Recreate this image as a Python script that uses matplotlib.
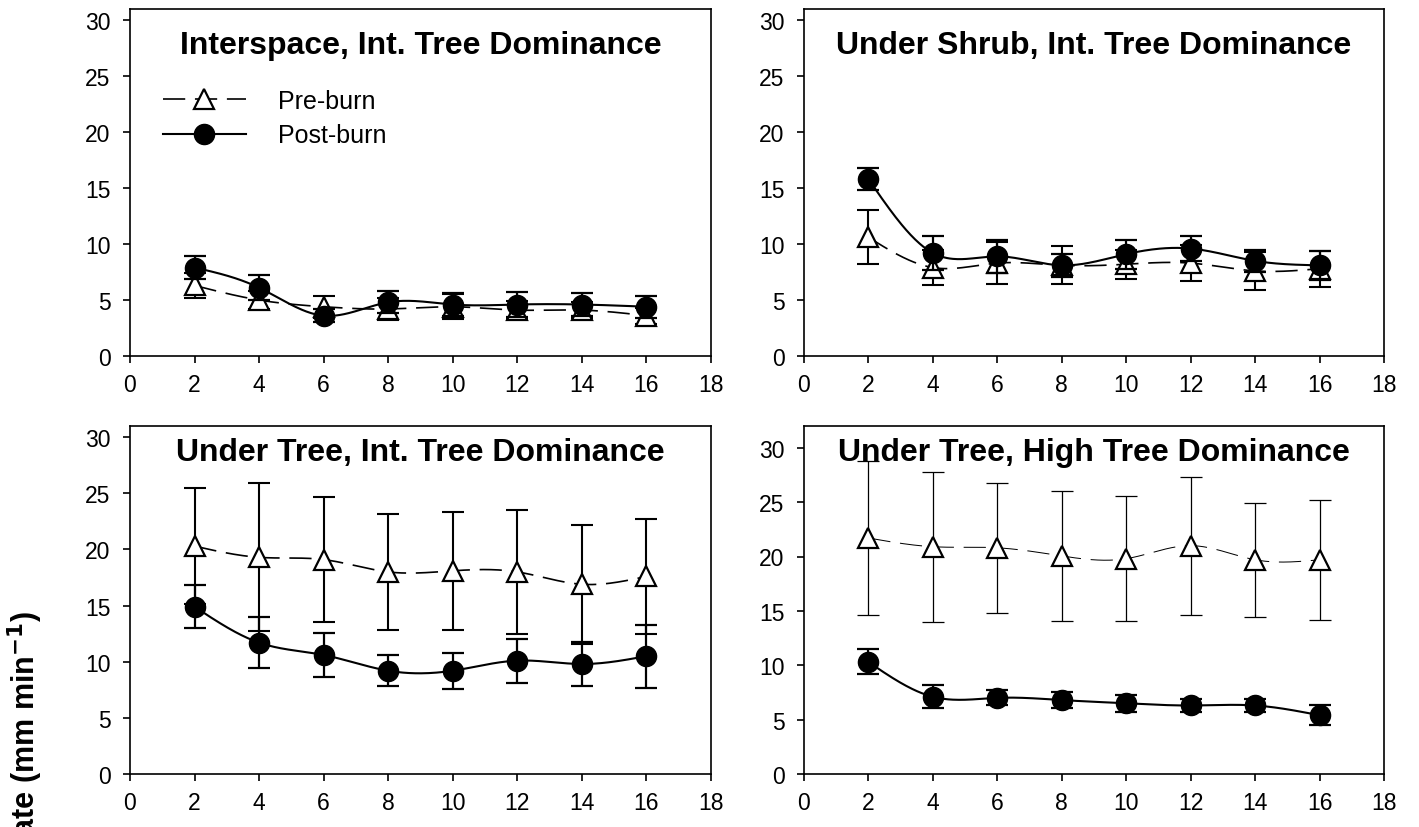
import numpy as np
import matplotlib
matplotlib.use("Agg")
import matplotlib.pyplot as plt
from matplotlib.lines import Line2D

plt.rcParams['font.family'] = ['Liberation Sans', 'DejaVu Sans']
plt.rcParams['lines.scale_dashes'] = False

# ---------------- data ----------------
days = [2, 4, 6, 8, 10, 12, 14, 16]

titles = ["Interspace, Int. Tree Dominance",
          "Under Shrub, Int. Tree Dominance",
          "Under Tree, Int. Tree Dominance",
          "Under Tree, High Tree Dominance"]

pre_interspace = [6.3, 5.0, 4.4, 4.2, 4.4, 4.1, 4.1, 3.6]
pre_interspace_err = [1.1, 0.8, 1.0, 1.0, 1.1, 0.8, 0.7, 0.7]
post_interspace = [7.9, 6.1, 3.6, 4.8, 4.6, 4.6, 4.6, 4.4]
post_interspace_err = [1.0, 1.1, 0.6, 1.0, 1.0, 1.1, 1.0, 1.0]

pre_shrub = [10.6, 7.9, 8.3, 8.1, 8.2, 8.3, 7.6, 7.8]
pre_shrub_err = [2.4, 1.6, 1.9, 1.7, 1.3, 1.6, 1.7, 1.6]
post_shrub = [15.8, 9.2, 8.9, 8.1, 9.1, 9.6, 8.5, 8.1]
post_shrub_err = [1.0, 1.5, 1.5, 1.0, 1.3, 1.1, 1.0, 1.3]

pre_tree_int = [20.3, 19.3, 19.1, 18.0, 18.1, 18.0, 16.9, 17.6]
pre_tree_int_err = [5.2, 6.6, 5.6, 5.2, 5.25, 5.5, 5.3, 5.15]
post_tree_int = [14.9, 11.7, 10.6, 9.2, 9.2, 10.1, 9.8, 10.5]
post_tree_int_err = [1.9, 2.3, 2.0, 1.4, 1.6, 1.95, 2.0, 2.8]

pre_tree_high = [21.7, 20.9, 20.8, 20.05, 19.8, 21.0, 19.7, 19.7]
pre_tree_high_err = [7.1, 6.9, 6.0, 5.95, 5.75, 6.35, 5.25, 5.5]
post_tree_high = [10.3, 7.1, 7.0, 6.8, 6.5, 6.3, 6.3, 5.4]
post_tree_high_err = [1.15, 1.05, 0.7, 0.7, 0.8, 0.6, 0.6, 0.9]

x_ticks = [0, 2, 4, 6, 8, 10, 12, 14, 16, 18]
y_ticks = [0, 5, 10, 15, 20, 25, 30]
legend_labels = ["Pre-burn", "Post-burn"]
y_label = "Infiltration Rate (mm min$^{\\mathbf{-1}}$)"


def smooth(x, y, n=300):
    """Natural cubic spline through the data points (for drawing the curve)."""
    x = np.asarray(x, float)
    y = np.asarray(y, float)
    h = np.diff(x)
    m = len(x)
    A = np.zeros((m, m))
    r = np.zeros(m)
    A[0, 0] = A[-1, -1] = 1.0
    for i in range(1, m - 1):
        A[i, i - 1] = h[i - 1]
        A[i, i] = 2 * (h[i - 1] + h[i])
        A[i, i + 1] = h[i]
        r[i] = 6 * ((y[i + 1] - y[i]) / h[i] - (y[i] - y[i - 1]) / h[i - 1])
    M = np.linalg.solve(A, r)
    xs = np.linspace(x[0], x[-1], n)
    idx = np.clip(np.searchsorted(x, xs) - 1, 0, m - 2)
    x0 = x[idx]
    x1 = x[idx + 1]
    hh = x1 - x0
    t0 = x1 - xs
    t1 = xs - x0
    ys = (M[idx] * t0 ** 3 / (6 * hh) + M[idx + 1] * t1 ** 3 / (6 * hh)
          + (y[idx] / hh - M[idx] * hh / 6) * t0
          + (y[idx + 1] / hh - M[idx + 1] * hh / 6) * t1)
    return xs, ys


panels = [
    (pre_interspace, pre_interspace_err, post_interspace, post_interspace_err, 31, 1.5),
    (pre_shrub, pre_shrub_err, post_shrub, post_shrub_err, 31, 1.5),
    (pre_tree_int, pre_tree_int_err, post_tree_int, post_tree_int_err, 31, 1.5),
    (pre_tree_high, pre_tree_high_err, post_tree_high, post_tree_high_err, 32, 0.9),
]

W, H = 1419, 828
fig = plt.figure(figsize=(W / 100, H / 100), dpi=100)

lefts = [130, 804, 130, 804]
rights = [711, 1384, 711, 1384]
tops = [10, 10, 427, 427]
bottoms = [357, 357, 775, 775]
title_y = [0.897, 0.897, 0.925, 0.925]

for k, (pre, pre_e, post, post_e, ytop, prelw) in enumerate(panels):
    ax = fig.add_axes([lefts[k] / W, 1 - bottoms[k] / H,
                       (rights[k] - lefts[k]) / W, (bottoms[k] - tops[k]) / H])
    # pre-burn
    ax.errorbar(days, pre, yerr=pre_e, fmt='none', ecolor='black',
                elinewidth=prelw, capsize=8, capthick=prelw, zorder=2)
    xs, ys = smooth(days, pre)
    ax.plot(xs, ys, color='black', lw=prelw * 0.8, linestyle=(0, (16, 7)), zorder=2)
    ax.plot(days, pre, linestyle='none', marker='^', markersize=14,
            markerfacecolor='white', markeredgecolor='black', markeredgewidth=1.6,
            zorder=3)
    # post-burn
    ax.errorbar(days, post, yerr=post_e, fmt='none', ecolor='black',
                elinewidth=1.6, capsize=8, capthick=1.6, zorder=4)
    xs, ys = smooth(days, post)
    ax.plot(xs, ys, color='black', lw=1.5, zorder=4)
    ax.plot(days, post, linestyle='none', marker='o', markersize=14.5,
            markerfacecolor='black', markeredgecolor='black', zorder=5)

    ax.set_xlim(0, 18)
    ax.set_ylim(0, ytop)
    ax.set_xticks(x_ticks)
    ax.set_yticks(y_ticks)
    ax.tick_params(direction='out', length=5, width=1.2, labelsize=16.5)
    ax.tick_params(axis='y', pad=9)
    ax.tick_params(axis='x', pad=7)
    for sp in ax.spines.values():
        sp.set_linewidth(1.2)
    ax.text(0.5, title_y[k], titles[k], transform=ax.transAxes, ha='center',
            va='center', fontsize=23, fontweight='bold')

    if k == 0:
        handles = [
            Line2D([], [], color='black', lw=1.2, linestyle=(0, (16, 7)), marker='^',
                   markersize=14, markerfacecolor='white', markeredgecolor='black',
                   markeredgewidth=1.6),
            Line2D([], [], color='black', lw=1.5, marker='o', markersize=14.5,
                   markerfacecolor='black'),
        ]
        ax.legend(handles, legend_labels, loc='upper left',
                  bbox_to_anchor=(0.057, 0.77), frameon=False, fontsize=18,
                  handlelength=3.3, handletextpad=1.3, labelspacing=0.42,
                  borderpad=0, borderaxespad=0)

fig.text(25 / W, 1 - 611 / H, y_label, rotation=90, ha='center', va='top',
         fontsize=22, fontweight='bold')

fig.savefig("out.png", dpi=100)
